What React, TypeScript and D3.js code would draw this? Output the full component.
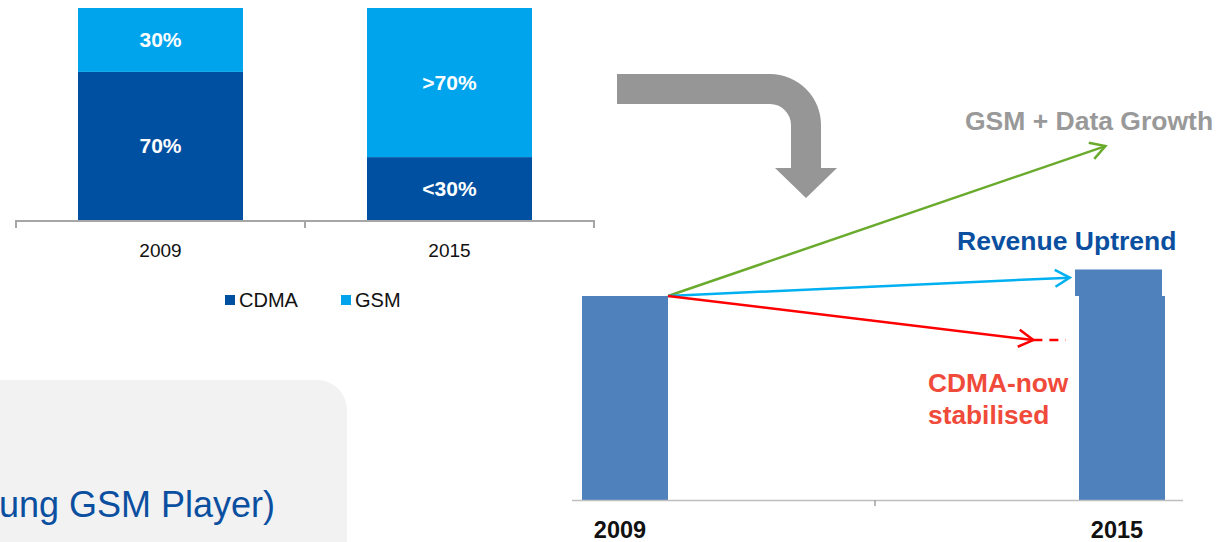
import React from "react";
import * as d3 from "d3";

// ---- Left chart: technology mix (100% stacked) ----
const mixCategories = ["2009", "2015"];
const cdmaShare = [70, 30];
const gsmShare = [30, 70];
const cdmaLabels = ["70%", "<30%"];
const gsmLabels = ["30%", ">70%"];
const legendItems = ["CDMA", "GSM"];

// ---- Right chart: revenue trend ----
const revenueYears = [2009, 2015];
const revenueBase = [100, 100];
const revenueExtra = [0, 13];
const trendNames = ["GSM + Data Growth", "Revenue Uptrend", "CDMA"];
const trendEndYear = [2014.8, 2014.37, 2013.93];
const trendEndValue = [173.5, 109, 78.4];
const cdmaDashEndYear = 2014.32;

const W = 1232;
const H = 542;

const C_CDMA = "#0050a2";
const C_GSM = "#00a4ec";
const C_REV = "#4f81bd";

function Chevron({ x0, y0, x1, y1, color }: { x0: number; y0: number; x1: number; y1: number; color: string }) {
  const ang = Math.atan2(y1 - y0, x1 - x0);
  const len = 17;
  const spread = Math.PI / 6;
  const a1 = ang + Math.PI - spread;
  const a2 = ang + Math.PI + spread;
  const p = `M${x1 + len * Math.cos(a1)},${y1 + len * Math.sin(a1)} L${x1},${y1} L${x1 + len * Math.cos(a2)},${y1 + len * Math.sin(a2)}`;
  return <path d={p} fill="none" stroke={color} strokeWidth={2.5} strokeLinejoin="miter" />;
}

export default function App() {
  // Left scales
  const xL = d3.scaleBand<string>().domain(mixCategories).range([16, 594]).padding(0);
  const yL = d3.scaleLinear().domain([0, 100]).range([221, 8]);
  const barWL = 165;

  // Right scales
  const xR = d3.scaleLinear().domain([2009, 2015]).range([625, 1122]);
  const yR = d3.scaleLinear().domain([0, 100]).range([500, 296]);
  const barWR = 86;

  const font = "Arial, 'Liberation Sans', Helvetica, sans-serif";
  const trendColors = ["#6aab2e", "#00b0f0", "#ff0000"];

  const startX = xR(2009) + barWR / 2;
  const startY = yR(revenueBase[0]);

  return (
    <svg width={W} height={H} style={{ position: "absolute", left: 0, top: 0, fontFamily: font }}>
      <rect x={0} y={0} width={W} height={H} fill="#ffffff" />

      {/* Gray rounded panel */}
      <rect x={-40} y={380} width={387} height={220} rx={30} ry={30} fill="#f2f2f2" />
      <text x={275} y={517} textAnchor="end" fontSize={36} fill="#0a4fa0">
        ung GSM Player)
      </text>

      {/* Left stacked bars */}
      {mixCategories.map((c, i) => {
        const cx = (xL(c) as number) + xL.bandwidth() / 2;
        const x = cx - barWL / 2;
        const yCdmaTop = yL(cdmaShare[i]);
        const yGsmTop = yL(cdmaShare[i] + gsmShare[i]);
        return (
          <g key={c}>
            <rect x={x} y={yCdmaTop} width={barWL} height={yL(0) - yCdmaTop} fill={C_CDMA} />
            <rect x={x} y={yGsmTop} width={barWL} height={yCdmaTop - yGsmTop} fill={C_GSM} />
            <text x={cx} y={(yCdmaTop + yL(0)) / 2 + 7} textAnchor="middle" fontSize={21} fontWeight="bold" fill="#fff">
              {cdmaLabels[i]}
            </text>
            <text x={cx} y={(yGsmTop + yCdmaTop) / 2 + 7} textAnchor="middle" fontSize={21} fontWeight="bold" fill="#fff">
              {gsmLabels[i]}
            </text>
            <text x={cx} y={257} textAnchor="middle" fontSize={19} fill="#111">
              {c}
            </text>
          </g>
        );
      })}
      {/* Left axis */}
      <line x1={16} x2={594} y1={221} y2={221} stroke="#a6a6a6" strokeWidth={2} />
      {[0, 1, 2].map((k) => {
        const tx = 16 + k * xL.step();
        return <line key={k} x1={tx} x2={tx} y1={220} y2={228} stroke="#a6a6a6" strokeWidth={2} />;
      })}

      {/* Legend */}
      {legendItems.map((name, i) => {
        const lx = i === 0 ? 225 : 341;
        return (
          <g key={name}>
            <rect x={lx} y={295} width={10} height={10} fill={i === 0 ? C_CDMA : C_GSM} />
            <text x={lx + 14} y={307} fontSize={20} fill="#111">
              {name}
            </text>
          </g>
        );
      })}

      {/* Gray curved arrow */}
      <path
        d="M617,74 H770 A51,51 0 0 1 821,125 V168 H837 L806,198 L775,168 H791 V125 A21,21 0 0 0 770,104 H617 Z"
        fill="#969696"
      />

      {/* Right bars */}
      {revenueYears.map((yr, i) => {
        const cx = xR(yr);
        const baseTop = yR(revenueBase[i]);
        return (
          <g key={yr}>
            <rect x={cx - barWR / 2} y={baseTop} width={barWR} height={yR(0) - baseTop} fill={C_REV} />
            {revenueExtra[i] > 0 && (
              <rect
                x={cx - barWR / 2 - 4}
                y={yR(revenueBase[i] + revenueExtra[i])}
                width={barWR + 1}
                height={baseTop - yR(revenueBase[i] + revenueExtra[i])}
                fill={C_REV}
              />
            )}
            <text x={cx - 5} y={538} textAnchor="middle" fontSize={23.5} fontWeight="bold" fill="#111">
              {yr}
            </text>
          </g>
        );
      })}
      {/* Right axis */}
      <line x1={572} x2={1183} y1={500.5} y2={500.5} stroke="#bfbfbf" strokeWidth={1.5} />
      <line x1={875} x2={875} y1={500} y2={506} stroke="#a0a0a0" strokeWidth={1.5} />

      {/* Trend arrows */}
      {trendNames.map((n, i) => {
        const ex = xR(trendEndYear[i]);
        const ey = yR(trendEndValue[i]);
        return (
          <g key={n}>
            <line x1={startX} y1={startY} x2={ex} y2={ey} stroke={trendColors[i]} strokeWidth={2.5} />
            <Chevron x0={startX} y0={startY} x1={ex} y1={ey} color={trendColors[i]} />
          </g>
        );
      })}
      <line
        x1={xR(trendEndYear[2])}
        x2={xR(cdmaDashEndYear)}
        y1={yR(trendEndValue[2])}
        y2={yR(trendEndValue[2])}
        stroke="#ff0000"
        strokeWidth={2.5}
        strokeDasharray="9,7"
      />

      {/* Annotations */}
      <text x={965} y={130} fontSize={26.5} fontWeight="bold" fill="#999999">
        GSM + Data Growth
      </text>
      <text x={957} y={250} fontSize={26.5} fontWeight="bold" fill="#0a4fa0">
        Revenue Uptrend
      </text>
      <text x={928} y={392} fontSize={26.3} fontWeight="bold" fill="#f04a3a">
        CDMA-now
      </text>
      <text x={928} y={424} fontSize={26.3} fontWeight="bold" fill="#f04a3a">
        stabilised
      </text>
    </svg>
  );
}
